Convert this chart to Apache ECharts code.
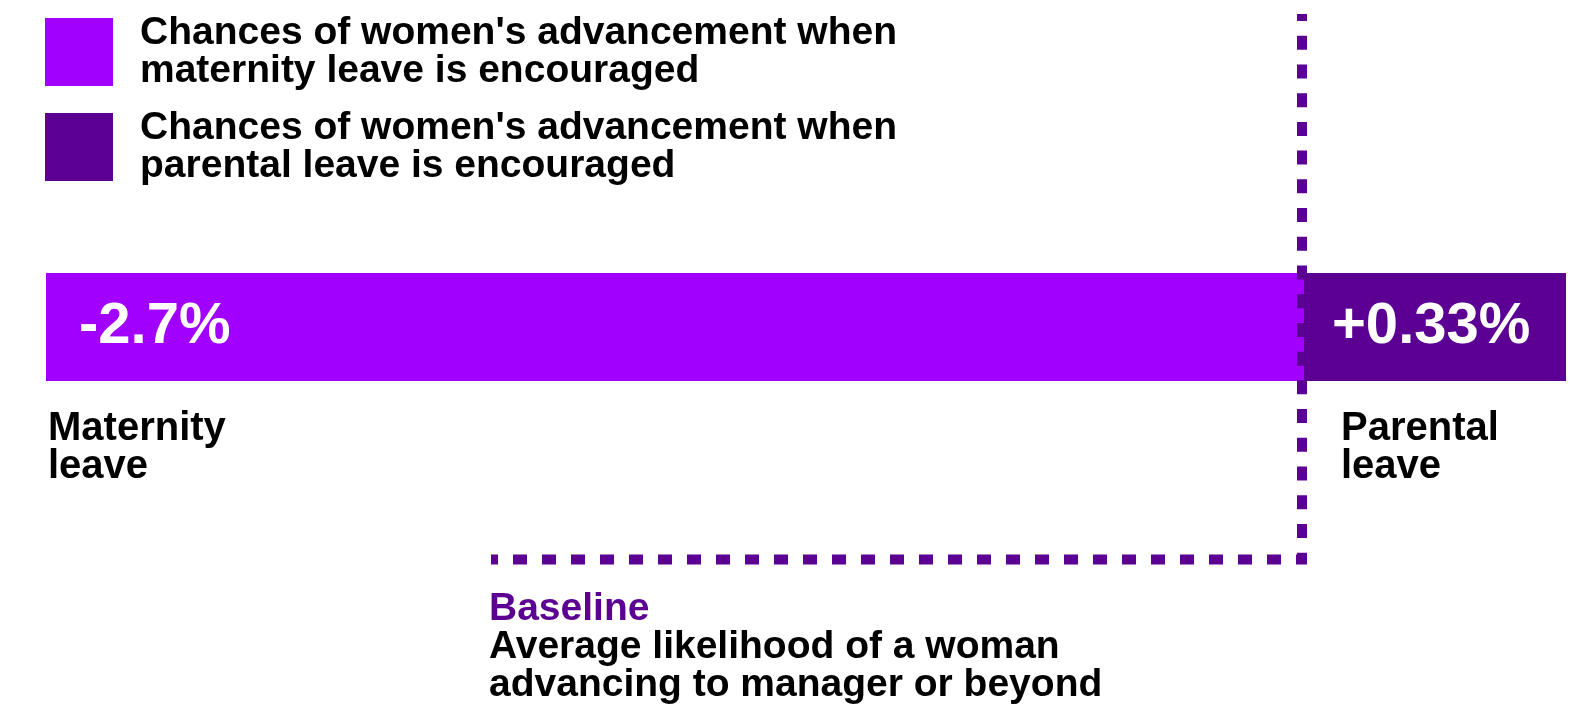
<!DOCTYPE html>
<html>
<head>
<meta charset="utf-8">
<script src="https://cdn.jsdelivr.net/npm/echarts@6/dist/echarts.min.js"></script>
<style>html,body{margin:0;padding:0;background:#fff;}#chart{width:1584px;height:705px;}</style>
</head>
<body>
<div id="chart"></div>
<script>
// ---- data ----
var categories = ['Maternity leave', 'Parental leave'];
var seriesNames = [
  "Chances of women's advancement when\nmaternity leave is encouraged",
  "Chances of women's advancement when\nparental leave is encouraged"
];
var values = [-2.7, 0.33];
var baselineTitle = 'Baseline';
var baselineText = ['Average likelihood of a woman', 'advancing to manager or beyond'];

var BRIGHT = '#A100FF';
var DARK = '#5B0092';
var FONT = '"Liberation Sans", Arial, sans-serif';

function fmt(v) { return (v > 0 ? '+' : '') + v + '%'; }

var chart = echarts.init(document.getElementById('chart'));
chart.setOption({
  animation: false,
  color: [BRIGHT, DARK],
  legend: {
    show: true,
    selectedMode: false,
    orient: 'vertical',
    left: 45,
    top: 13,
    padding: 0,
    itemWidth: 68,
    itemHeight: 68,
    itemGap: 17,
    icon: 'rect',
    data: seriesNames,
    textStyle: {
      fontFamily: FONT, fontWeight: 'bold', fontSize: 39, lineHeight: 38,
      color: '#000', padding: [2, 0, 0, 22]
    }
  },
  grid: [
    { left: 46, top: 273, width: 1258, height: 108 },
    { left: 1304, top: 273, width: 262, height: 108 }
  ],
  xAxis: [
    { gridIndex: 0, type: 'value', min: Math.min(values[0], 0), max: 0, show: false },
    { gridIndex: 1, type: 'value', min: 0, max: Math.max(values[1], 0), show: false }
  ],
  yAxis: [
    { gridIndex: 0, type: 'category', data: [categories[0]], show: false },
    { gridIndex: 1, type: 'category', data: [categories[1]], show: false }
  ],
  series: [0, 1].map(function (i) {
    return {
      name: seriesNames[i],
      type: 'bar',
      xAxisIndex: i,
      yAxisIndex: i,
      barWidth: '100%',
      data: [values[i]],
      itemStyle: { color: i === 0 ? BRIGHT : DARK },
      label: {
        show: true,
        position: 'insideLeft',
        distance: i === 0 ? 33 : 28,
        formatter: function (p) { return fmt(p.value); },
        color: '#fff',
        fontFamily: FONT,
        fontWeight: 'bold',
        fontSize: 58
      },
      silent: true
    };
  })
});

// pixel positions derived from the scales
var zeroX = chart.convertToPixel({ xAxisIndex: 1 }, 0);
var leftX = chart.convertToPixel({ xAxisIndex: 0 }, values[0]);
var lineX = zeroX - 2;
var lineY = 559.5;

chart.setOption({
  graphic: [
    {
      type: 'text', left: leftX + 2, top: 409, silent: true,
      style: {
        text: categories[0].replace(' ', '\n'),
        fill: '#000', font: 'bold 40px ' + FONT, lineHeight: 38
      }
    },
    {
      type: 'text', left: zeroX + 37, top: 409, silent: true,
      style: {
        text: categories[1].replace(' ', '\n'),
        fill: '#000', font: 'bold 40px ' + FONT, lineHeight: 38
      }
    },
    {
      type: 'line', silent: true, z: 100,
      shape: { x1: 491, y1: lineY, x2: lineX - 5, y2: lineY },
      style: {
        stroke: DARK, lineWidth: 10,
        lineDash: [14, 15], lineDashOffset: 7, lineCap: 'butt'
      }
    },
    {
      type: 'line', silent: true, z: 100,
      shape: { x1: lineX, y1: 14, x2: lineX, y2: 564.5 },
      style: {
        stroke: DARK, lineWidth: 10,
        lineDash: [14, 14.72], lineDashOffset: 7, lineCap: 'butt'
      }
    },
    {
      type: 'text', left: 489, top: 590, silent: true,
      style: {
        text: '{b|' + baselineTitle + '}\n' + baselineText.map(function (t) { return '{t|' + t + '}'; }).join('\n'),
        rich: {
          b: { fill: DARK, font: 'bold 39px ' + FONT, lineHeight: 38 },
          t: { fill: '#000', font: 'bold 39px ' + FONT, lineHeight: 38 }
        }
      }
    }
  ]
});
</script>
</body>
</html>
